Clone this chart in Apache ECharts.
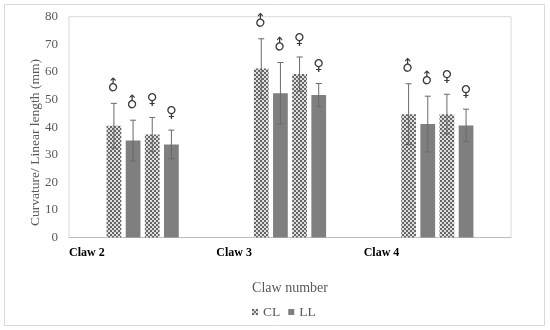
<!DOCTYPE html>
<html>
<head>
<meta charset="utf-8">
<script src="https://cdn.jsdelivr.net/npm/echarts@6/dist/echarts.min.js"></script>
<style>html,body{margin:0;padding:0;background:#fff}#c{width:550px;height:330px}</style>
</head>
<body>
<div id="c"></div>
<script>
// ---- data ----
var categories = ['Claw 2', 'Claw 3', 'Claw 4'];
var clMale   = [40.5, 61.2, 44.7];
var llMale   = [35.1, 52.3, 41.1];
var clFemale = [37.3, 59.2, 44.7];
var llFemale = [33.7, 51.6, 40.6];
var sdClMale   = [8.1, 10.8, 11.0];
var sdLlMale   = [7.4, 11.1, 10.1];
var sdClFemale = [6.2, 6.2, 7.2];
var sdLlFemale = [5.2, 4.2, 5.9];
var sexSymbols = ['\u2642', '\u2642', '\u2640', '\u2640'];
var yTicks = [0, 10, 20, 30, 40, 50, 60, 70, 80];

// ---- pattern ----
var tile = document.createElement('canvas');
tile.width = 4; tile.height = 4;
var tc = tile.getContext('2d');
tc.fillStyle = '#dedede'; tc.fillRect(0, 0, 4, 4);
tc.fillStyle = '#666666'; tc.fillRect(0, 0, 2, 2); tc.fillRect(2, 2, 2, 2);
var patternColor = { image: tile, repeat: 'repeat' };
var solidColor = '#7f7f7f';

var serif = '"Liberation Serif", "Times New Roman", serif';
var means = [clMale, llMale, clFemale, llFemale];
var sds = [sdClMale, sdLlMale, sdClFemale, sdLlFemale];
var names = ['CL', 'LL', 'CL', 'LL'];

var series = [];
means.forEach(function (m, j) {
  series.push({
    type: 'bar', name: names[j], data: m,
    barWidth: '10%', barGap: '30%',
    itemStyle: { color: j % 2 === 0 ? patternColor : solidColor },
    xAxisIndex: 0, yAxisIndex: 0
  });
});
var errData = [];
means.forEach(function (m, j) {
  m.forEach(function (v, i) { errData.push([i, v, sds[j][i], j]); });
});
series.push({
  type: 'custom', xAxisIndex: 0, yAxisIndex: 0, z: 10,
  data: errData,
  encode: { x: 0, y: 1 },
  renderItem: function (params, api) {
    var c = api.value(0), v = api.value(1), sd = api.value(2), j = api.value(3);
    var band = api.size([1, 0])[0];
    var bw = band * 0.1, step = bw * 1.3;
    var x = api.coord([c, v])[0] + (j - 1.5) * step;
    var yt = api.coord([c, v + sd])[1];
    var yb = api.coord([c, v - sd])[1];
    var cap = 3;
    var ls = { stroke: '#6a6a6a', lineWidth: 1 };
    var male = j < 2;
    return {
      type: 'group',
      children: [
        { type: 'line', shape: { x1: x, y1: yt, x2: x, y2: yb }, style: ls },
        { type: 'line', shape: { x1: x - cap, y1: yt, x2: x + cap, y2: yt }, style: ls },
        { type: 'line', shape: { x1: x - cap, y1: yb, x2: x + cap, y2: yb }, style: ls },
        { type: 'text', x: x, y: yt - 17, rotation: male ? Math.PI / 4 : 0,
          style: { text: sexSymbols[j], fill: '#3a3a3a', font: '15px "DejaVu Sans", sans-serif',
                   textAlign: 'center', textVerticalAlign: 'middle' } }
      ]
    };
  }
});

var chart = echarts.init(document.getElementById('c'), null, { renderer: 'canvas' });
chart.setOption({
  backgroundColor: '#fff',
  animation: false,
  grid: { left: 69, right: 39, top: 16.7, bottom: 92.5, show: true, borderColor: '#d9d9d9', borderWidth: 1 },
  legend: {
    data: ['CL', 'LL'], left: 247, top: 300, icon: 'rect', itemWidth: 6, itemHeight: 6, itemGap: 8,
    textStyle: { fontFamily: serif, fontSize: 13.5, color: '#595959' }
  },
  xAxis: [{
    type: 'category', data: categories, gridIndex: 0, position: 'bottom',
    axisLine: { lineStyle: { color: '#bfbfbf' } }, axisTick: { show: false }, axisLabel: { show: false }
  }, {
    type: 'value', gridIndex: 0, position: 'bottom', min: 0, max: 3, interval: 1,
    axisLine: { show: false }, axisTick: { show: false }, splitLine: { show: false },
    axisLabel: {
      align: 'left', margin: 9, showMaxLabel: true,
      formatter: function (v) { return categories[v] || ''; },
      fontFamily: serif, fontWeight: 'bold', fontSize: 12, color: '#000'
    }
  }],
  yAxis: {
    type: 'value', min: yTicks[0], max: yTicks[yTicks.length - 1], interval: 10,
    axisLine: { show: false }, axisTick: { show: false }, splitLine: { show: false },
    axisLabel: { fontFamily: serif, fontSize: 13, color: '#595959', margin: 11 }
  },
  graphic: [
    { type: 'rect', shape: { x: 4.5, y: 4.5, width: 540, height: 321 },
      style: { fill: 'none', stroke: '#d9d9d9', lineWidth: 1 }, silent: true },
    { type: 'text', x: 290, y: 288,
      style: { text: 'Claw number', font: '14px ' + serif, fill: '#595959', textAlign: 'center', textVerticalAlign: 'middle' } },
    { type: 'text', x: 35, y: 142.5, rotation: Math.PI / 2,
      style: { text: 'Curvature/ Linear length (mm)', font: '13.5px ' + serif, fill: '#595959', textAlign: 'center', textVerticalAlign: 'middle' } }
  ],
  series: series
});
</script>
</body>
</html>
